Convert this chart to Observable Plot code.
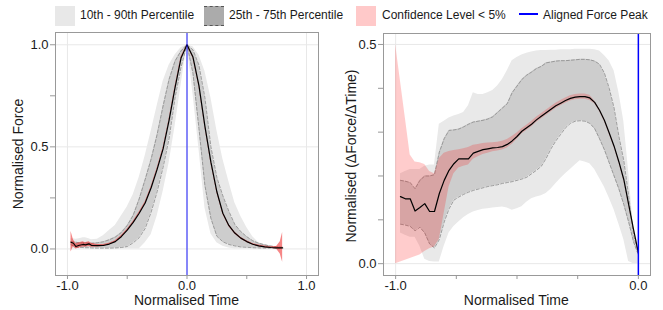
<!DOCTYPE html>
<html><head><meta charset="utf-8">
<script src="https://cdn.jsdelivr.net/npm/d3@7"></script>
<script src="https://cdn.jsdelivr.net/npm/@observablehq/plot@0.6"></script>
<style>
body{margin:0;background:#fff;font-family:"Liberation Sans",Arial,sans-serif;}
#wrap{position:relative;width:663px;height:310px;overflow:hidden;}
#legend{position:absolute;left:0;top:0;width:663px;height:30px;font-size:12px;color:#1a1a1a;}
.key{position:absolute;top:6px;width:20px;height:20px;box-sizing:border-box;}
.lab{position:absolute;top:8px;line-height:14px;white-space:nowrap;}
.panel{position:absolute;top:30px;}
.xt{position:absolute;font-size:14px;line-height:16px;color:#1a1a1a;white-space:nowrap;transform:translate(-50%,-50%);}
.yt{position:absolute;font-size:14px;line-height:16px;color:#1a1a1a;white-space:nowrap;transform:translate(-50%,-50%) rotate(-90deg);}
</style></head><body>
<div id="wrap">
  <div id="legend">
    <div class="key" style="left:55px;background:#e8e8e8;"></div>
    <div class="lab" style="left:80px;">10th - 90th Percentile</div>
    <div class="key" style="left:204px;background:#ababab;border-top:1.5px dashed #555;border-bottom:1.5px dashed #555;"></div>
    <div class="lab" style="left:229px;">25th - 75th Percentile</div>
    <div class="key" style="left:356px;background:#ffc9c9;"></div>
    <div class="lab" style="left:382px;">Confidence Level &lt; 5%</div>
    <div style="position:absolute;left:519px;top:13px;width:19px;height:2px;background:#0000ff;"></div>
    <div class="lab" style="left:543px;">Aligned Force Peak</div>
  </div>
  <div id="p1" class="panel" style="left:0px;"></div>
  <div id="p2" class="panel" style="left:330px;"></div>
  <div class="xt" style="left:186.5px;top:300px;">Normalised Time</div>
  <div class="xt" style="left:516.3px;top:300px;">Normalised Time</div>
  <div class="yt" style="left:18px;top:154px;">Normalised Force</div>
  <div class="yt" style="left:351px;top:156px;">Normalised (ΔForce/ΔTime)</div>
</div>
<script>
// ---------- Left panel: Normalised Force vs Normalised Time ----------
const tL = [-0.97,-0.95,-0.93,-0.9,-0.87,-0.85,-0.82,-0.8,-0.75,-0.7,-0.65,-0.6,-0.55,-0.5,-0.45,-0.4,-0.35,-0.3,-0.25,-0.2,-0.15,-0.1,-0.05,0,0.05,0.1,0.15,0.2,0.25,0.3,0.35,0.4,0.45,0.5,0.55,0.6,0.65,0.7,0.75,0.78,0.8];
const medianL = [0.033,0.028,0.012,0.018,0.022,0.02,0.025,0.018,0.016,0.017,0.024,0.036,0.06,0.092,0.13,0.175,0.225,0.30,0.39,0.49,0.63,0.79,0.935,1.0,0.94,0.80,0.60,0.425,0.28,0.175,0.115,0.078,0.053,0.036,0.023,0.015,0.01,0.007,0.005,0.005,0.005];
const ciLoL = [-0.015,0.012,0.0,0.005,0.01,0.008,0.012,0.008,0.01,0.012,0.02,0.032,0.055,0.087,0.125,0.17,0.22,0.295,0.385,0.485,0.625,0.785,0.93,0.995,0.935,0.795,0.595,0.42,0.275,0.17,0.11,0.073,0.049,0.032,0.019,0.011,0.006,0.003,-0.002,-0.025,-0.065];
const ciHiL = [0.085,0.045,0.025,0.03,0.035,0.03,0.035,0.028,0.022,0.022,0.028,0.04,0.065,0.097,0.135,0.18,0.23,0.305,0.395,0.495,0.635,0.795,0.94,1.0,0.945,0.805,0.605,0.43,0.285,0.18,0.12,0.083,0.057,0.04,0.027,0.019,0.014,0.011,0.012,0.035,0.08];
const p25L = [0.02,0.015,0.008,0.008,0.007,0.006,0.006,0.005,0.004,0.004,0.004,0.005,0.007,0.012,0.03,0.055,0.10,0.18,0.28,0.40,0.54,0.74,0.89,1.0,0.86,0.59,0.31,0.15,0.062,0.035,0.022,0.015,0.01,0.008,0.006,0.005,0.004,0.004,0.004,0.004,0.004];
const p75L = [0.035,0.035,0.033,0.03,0.03,0.03,0.028,0.028,0.03,0.035,0.045,0.058,0.08,0.115,0.165,0.245,0.34,0.44,0.56,0.70,0.83,0.92,0.97,1.0,0.975,0.90,0.74,0.50,0.35,0.26,0.185,0.12,0.085,0.06,0.04,0.028,0.02,0.014,0.01,0.009,0.008];
const p10L = [0,0,0,0,0,0,0,0,0,0,0,0,0,0,0,0,0.03,0.07,0.16,0.28,0.42,0.6,0.8,1.0,0.76,0.49,0.20,0.075,0.03,0.013,0.005,0,0,0,0,0,0,0,0,0,0];
const p90L = [0.05,0.05,0.048,0.05,0.055,0.055,0.05,0.045,0.048,0.065,0.09,0.115,0.16,0.205,0.265,0.35,0.455,0.575,0.70,0.82,0.90,0.95,0.985,1.0,0.99,0.95,0.87,0.74,0.58,0.44,0.33,0.226,0.16,0.105,0.06,0.03,0.02,0.015,0.01,0.008,0.006];
const xTicksL = [-1, 0, 1], xMinorL = [-0.5, 0.5];
const yTicksL = [0, 0.5, 1], yMinorL = [0.25, 0.75];

// ---------- Right panel: Normalised (dForce/dTime) vs Normalised Time ----------
const tR = [-1.0,-0.98,-0.96,-0.94,-0.92,-0.9,-0.88,-0.86,-0.84,-0.82,-0.8,-0.78,-0.76,-0.74,-0.72,-0.7,-0.68,-0.66,-0.64,-0.62,-0.6,-0.58,-0.56,-0.54,-0.52,-0.5,-0.48,-0.46,-0.44,-0.42,-0.4,-0.38,-0.36,-0.34,-0.32,-0.3,-0.28,-0.26,-0.24,-0.22,-0.2,-0.18,-0.16,-0.14,-0.12,-0.1,-0.08,-0.06,-0.04,-0.02,0];
const medianR = [null,0.153,0.148,0.148,0.12,0.128,0.137,0.119,0.119,0.16,0.19,0.213,0.228,0.239,0.239,0.239,0.252,0.256,0.26,0.262,0.264,0.265,0.267,0.272,0.28,0.29,0.302,0.31,0.318,0.328,0.336,0.344,0.352,0.36,0.366,0.372,0.377,0.38,0.381,0.381,0.378,0.368,0.35,0.327,0.298,0.268,0.232,0.192,0.135,0.078,0.025];
const ciLoR = [0.0,0.004,0.008,0.012,0.016,0.02,0.028,0.034,0.038,0.055,0.115,0.175,0.205,0.218,0.222,0.225,0.238,0.244,0.249,0.252,0.255,0.257,0.259,0.264,0.272,0.283,0.296,0.304,0.312,0.322,0.33,0.338,0.346,0.354,0.36,0.366,0.371,0.374,0.375,0.375,0.372,0.365,0.347,0.324,0.295,0.265,0.229,0.189,0.132,0.075,0.022];
const ciHiR = [0.5,0.416,0.332,0.248,0.232,0.23,0.226,0.21,0.205,0.24,0.252,0.256,0.258,0.26,0.262,0.265,0.27,0.272,0.274,0.275,0.276,0.277,0.279,0.283,0.29,0.298,0.308,0.316,0.324,0.334,0.342,0.35,0.358,0.366,0.372,0.378,0.383,0.386,0.387,0.387,0.384,0.371,0.353,0.33,0.301,0.271,0.235,0.195,0.138,0.081,0.028];
const p25R = [null,0.09,0.088,0.085,0.075,0.083,0.07,0.045,0.036,0.055,0.095,0.125,0.145,0.152,0.158,0.163,0.167,0.17,0.173,0.176,0.178,0.18,0.183,0.185,0.187,0.19,0.193,0.197,0.205,0.213,0.222,0.24,0.262,0.28,0.295,0.31,0.32,0.325,0.326,0.325,0.32,0.308,0.285,0.26,0.23,0.2,0.17,0.135,0.095,0.05,0.02];
const p75R = [null,0.19,0.188,0.185,0.171,0.19,0.2,0.2,0.203,0.254,0.285,0.304,0.305,0.307,0.312,0.318,0.323,0.325,0.327,0.33,0.335,0.345,0.355,0.365,0.39,0.405,0.42,0.43,0.437,0.445,0.45,0.458,0.46,0.462,0.463,0.463,0.464,0.465,0.466,0.466,0.465,0.462,0.455,0.435,0.40,0.355,0.29,0.235,0.155,0.065,0.025];
const p10R = [null,0.07,0.065,0.06,0.06,0.04,0.01,0.005,0.004,0.004,0.04,0.07,0.085,0.095,0.105,0.112,0.118,0.121,0.124,0.125,0.127,0.128,0.129,0.127,0.122,0.125,0.13,0.14,0.148,0.152,0.155,0.16,0.17,0.182,0.194,0.205,0.215,0.225,0.235,0.232,0.228,0.215,0.195,0.175,0.15,0.123,0.09,0.055,0.005,0.0,0.0];
const p90R = [null,0.205,0.21,0.215,0.215,0.215,0.222,0.225,0.225,0.318,0.325,0.332,0.337,0.34,0.345,0.36,0.39,0.386,0.386,0.39,0.395,0.405,0.42,0.44,0.463,0.47,0.476,0.48,0.483,0.485,0.486,0.486,0.487,0.487,0.488,0.488,0.488,0.489,0.489,0.489,0.489,0.488,0.485,0.475,0.462,0.44,0.39,0.325,0.21,0.08,0.025];
const xTicksR = [-1, 0], xMinorR = [-0.75, -0.5, -0.25];
const yTicksR = [0, 0.5], yMinorR = [0.1, 0.2, 0.3, 0.4];

function rowsOf(t, m, lo, hi, q25, q75, q10, q90) {
  return t.map((x, i) => ({t: x, m: m[i], lo: lo[i], hi: hi[i], q25: q25[i], q75: q75[i], q10: q10[i], q90: q90[i]}));
}
const fmt = d => d.toFixed(1);
const none = () => "";
const GRID = "#e8e8e8", AX = "#999999";

function panel(o) {
  const rows = o.rows;
  const marks = [
    Plot.gridX(o.xTicks, {stroke: GRID, strokeOpacity: 1, strokeWidth: 1}),
    Plot.gridY(o.yTicks, {stroke: GRID, strokeOpacity: 1, strokeWidth: 1}),
    Plot.areaY(rows, {x: "t", y1: "q10", y2: "q90", fill: "#e9e9e9"}),
    Plot.areaY(rows, {x: "t", y1: "q25", y2: "q75", fill: "#cdcdcd"}),
    Plot.line(rows, {x: "t", y: "q25", stroke: "#8a8a8a", strokeWidth: 0.8, strokeDasharray: "3,2"}),
    Plot.line(rows, {x: "t", y: "q75", stroke: "#8a8a8a", strokeWidth: 0.8, strokeDasharray: "3,2"}),
    Plot.areaY(rows, {x: "t", y1: "lo", y2: "hi", fill: o.ciColor, fillOpacity: o.ciOpacity}),
    Plot.line(rows, {x: "t", y: "m", stroke: "#000", strokeWidth: 1.2}),
    Plot.ruleX([0], {stroke: "#0000ff", strokeOpacity: o.blueOpacity, strokeWidth: 1.5}),
    Plot.frame({stroke: AX, strokeWidth: 1}),
    Plot.axisX(o.xTicks, {tickSize: 4, tickPadding: 1, stroke: AX, tickFormat: fmt, label: null}),
    Plot.axisY(o.yTicks, {tickSize: 5, tickPadding: 2, stroke: AX, tickFormat: fmt, label: null})
  ];
  if (o.xMinor.length) marks.push(Plot.axisX(o.xMinor, {tickSize: 4, stroke: AX, tickFormat: none, label: null}));
  if (o.yMinor.length) marks.push(Plot.axisY(o.yMinor, {tickSize: 5, stroke: AX, tickFormat: none, label: null}));
  return Plot.plot({
    width: o.width, height: 280,
    marginLeft: o.ml, marginRight: o.mr, marginTop: o.mt, marginBottom: 35,
    style: {fontFamily: "'Liberation Sans', Arial, sans-serif", fontSize: "13px", color: "#1a1a1a", background: "transparent"},
    x: {domain: o.xDomain}, y: {domain: o.yDomain},
    marks
  });
}

document.getElementById("p1").append(panel({
  rows: rowsOf(tL, medianL, ciLoL, ciHiL, p25L, p75L, p10L, p90L),
  width: 330, ml: 55, mr: 12, mt: 2,
  xDomain: [-1.1, 1.1], yDomain: [-0.13, 1.06],
  xTicks: xTicksL, xMinor: xMinorL, yTicks: yTicksL, yMinor: yMinorL,
  ciColor: "#ee2222", ciOpacity: 0.55, blueOpacity: 0.6
}));
document.getElementById("p2").append(panel({
  rows: rowsOf(tR, medianR, ciLoR, ciHiR, p25R, p75R, p10R, p90R),
  width: 333, ml: 53, mr: 13, mt: 3,
  xDomain: [-1.05, 0.05], yDomain: [-0.027, 0.525],
  xTicks: xTicksR, xMinor: xMinorR, yTicks: yTicksR, yMinor: yMinorR,
  ciColor: "#ff0000", ciOpacity: 0.2, blueOpacity: 1
}));
</script>
</body></html>
